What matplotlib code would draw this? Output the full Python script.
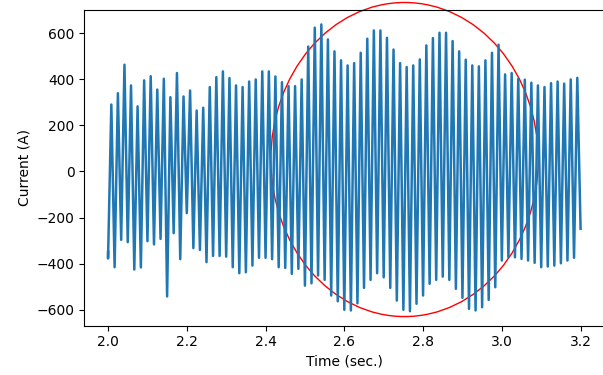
import numpy as np
import matplotlib
matplotlib.use('Agg')
import matplotlib.pyplot as plt
from matplotlib.patches import Ellipse

# 電流波形資料 (60 Hz), 讀自圖片的每個週期峰值與谷值
start_value = -350
peaks = [291, 340, 464, 374, 283, 396, 414, 356, 403, 323, 428, 326,
         352, 265, 277, 367, 410, 435, 406, 374, 367, 391, 400, 435,
         435, 413, 388, 371, 371, 400, 543, 625, 639, 574, 522, 483,
         461, 471, 516, 577, 613, 613, 581, 530, 471, 454, 461, 487,
         548, 580, 603, 603, 567, 522, 486, 461, 457, 483, 516, 551,
         422, 428, 403, 399, 386, 374, 367, 384, 391, 382, 400, 407]
troughs = [-378,
           -416, -297, -307, -426, -417, -303, -317, -293, -543, -268, -381,
           -181, -333, -341, -394, -367, -367, -370, -416, -442, -438, -409, -375,
           -375, -381, -416, -419, -445, -423, -496, -486, -452, -471, -539, -564, -601,
           -604, -573, -506, -471, -442, -460, -506, -561, -601, -607, -575,
           -539, -488, -471, -457, -471, -510, -549, -597, -604, -590, -558, -503, -387,
           -373, -373, -380, -387, -397, -416, -413, -409, -399, -387, -375]
end_value = -249

t_start = 2.0
t_end = 3.2
freq = 60.0

# 組合成時間序列: 谷, 峰, 谷, 峰 ... (每半週期一點)
current = [start_value]
for tr, pk in zip(troughs, peaks):
    current.append(tr)
    current.append(pk)
current.append(end_value)
time = np.concatenate([[t_start],
                       t_start + np.arange(len(peaks) * 2) / (2 * freq),
                       [t_end]])

# 畫布
fig = plt.figure(figsize=(6.03, 3.75), dpi=100)
ax = fig.add_axes([0.140, 0.132, 0.862, 0.841])

ax.plot(time, current, color='#1f77b4', linewidth=1.8)

ax.set_xlabel('Time (sec.)')
ax.set_ylabel('Current (A)')
ax.set_yticks([-600, -400, -200, 0, 200, 400, 600])

# 紅色圈圈標示振幅變大區段
circle = Ellipse((2.753, 52), width=0.679, height=1365, fill=False,
                 edgecolor='red', linewidth=1.0, clip_on=False)
ax.add_patch(circle)

plt.savefig('out.png', dpi=100)
plt.close()
